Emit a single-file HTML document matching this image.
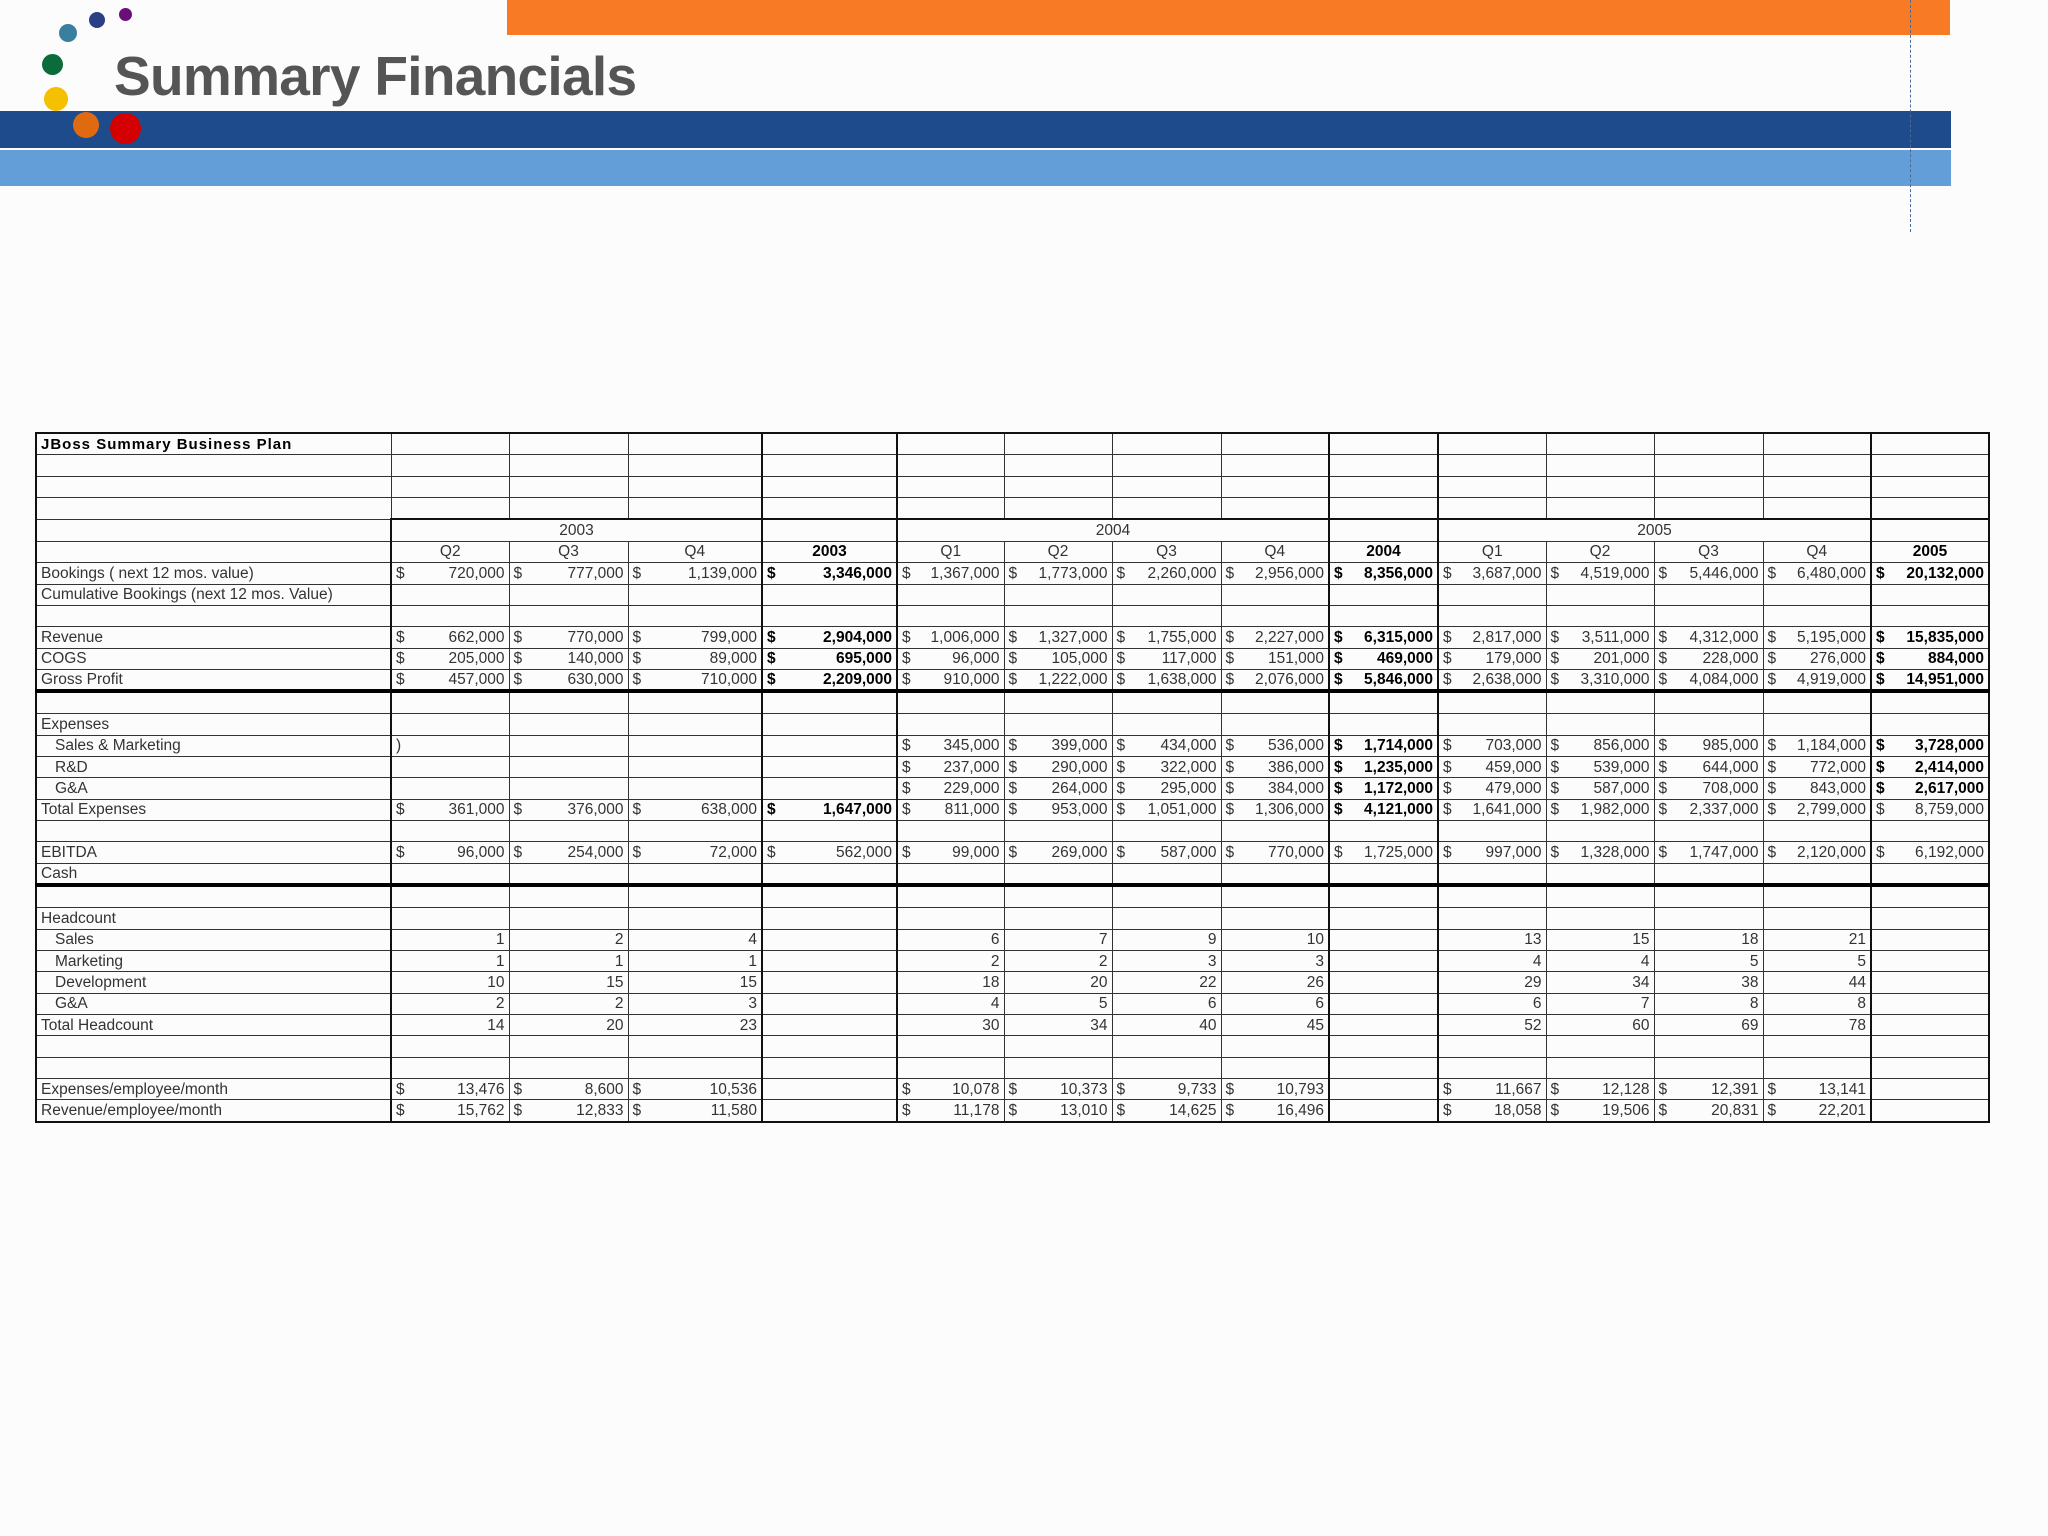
<!DOCTYPE html>
<html><head><meta charset="utf-8">
<style>
html,body{margin:0;padding:0;background:#fdfcfd;}
body{width:2048px;height:1536px;position:relative;overflow:hidden;font-family:"Liberation Sans Narrow","Liberation Sans",sans-serif;}
.abs{position:absolute;}
.dot{position:absolute;border-radius:50%;}
#tbl{position:absolute;left:35px;top:432px;width:1953px;border-collapse:collapse;table-layout:fixed;border:2px solid #111;}
#tbl td{height:20.36px;padding:0 4px;border:1px solid #333;font-size:15.5px;color:#333;white-space:nowrap;overflow:hidden;line-height:19px;}
#tbl tr.thick td{height:18.1px;border-bottom:4px solid #000;}
#tbl td.n{text-align:right;}
#tbl td.b{font-weight:bold;color:#000;font-family:"Liberation Sans",sans-serif;font-size:15.5px;}
#tbl td .d{float:left;}
#tbl td.tl{border-left:2px solid #111;}
#tbl td.c{text-align:center;}
</style></head>
<body>
<div class="abs" style="left:507px;top:0;width:1443px;height:35px;background:#f87a24;"></div>
<div class="abs" style="left:0;top:111px;width:1951px;height:37px;background:#1d4b8b;"></div>
<div class="abs" style="left:0;top:150px;width:1951px;height:36px;background:#649ed9;"></div>
<div class="abs" style="left:1910px;top:0;width:0;height:232px;border-left:1.5px dashed #4a6a9a;"></div>
<div class="abs" style="left:114px;top:44px;font-family:'Liberation Sans',sans-serif;font-weight:bold;font-size:55px;color:#555;letter-spacing:-0.7px;">Summary Financials</div>
<div class="dot" style="left:59px;top:24px;width:18px;height:18px;background:#3a7fa0;"></div>
<div class="dot" style="left:89px;top:12px;width:16px;height:16px;background:#2a3f84;"></div>
<div class="dot" style="left:119px;top:8px;width:13px;height:13px;background:#6a0f7a;"></div>
<div class="dot" style="left:42px;top:54px;width:21px;height:21px;background:#0b6b3a;"></div>
<div class="dot" style="left:44px;top:87px;width:24px;height:24px;background:#f5c000;"></div>
<div class="dot" style="left:73px;top:112px;width:26px;height:26px;background:#e06a10;"></div>
<div class="dot" style="left:110px;top:113px;width:31px;height:31px;background:#d40000;"></div>

<table id="tbl">
<colgroup>
<col style="width:355px"><col style="width:118px"><col style="width:119px"><col style="width:134px"><col style="width:135px">
<col style="width:107px"><col style="width:108px"><col style="width:109px"><col style="width:108px"><col style="width:109px">
<col style="width:108px"><col style="width:108px"><col style="width:109px"><col style="width:108px"><col style="width:118px">
</colgroup>
<tbody id="tb"></tbody>
</table>

<script>
const labels=["JBoss Summary Business Plan","","","","","","Bookings ( next 12 mos. value)","Cumulative Bookings (next 12 mos. Value)","","Revenue","COGS","Gross Profit","","Expenses","  Sales & Marketing","  R&D","  G&A","Total Expenses","","EBITDA","Cash","","Headcount","  Sales","  Marketing","  Development","  G&A","Total Headcount","","","Expenses/employee/month","Revenue/employee/month"];
const bookings=["$720,000","$777,000","$1,139,000","$3,346,000","$1,367,000","$1,773,000","$2,260,000","$2,956,000","$8,356,000","$3,687,000","$4,519,000","$5,446,000","$6,480,000","$20,132,000"];
const revenue=["$662,000","$770,000","$799,000","$2,904,000","$1,006,000","$1,327,000","$1,755,000","$2,227,000","$6,315,000","$2,817,000","$3,511,000","$4,312,000","$5,195,000","$15,835,000"];
const cogs=["$205,000","$140,000","$89,000","$695,000","$96,000","$105,000","$117,000","$151,000","$469,000","$179,000","$201,000","$228,000","$276,000","$884,000"];
const grossProfit=["$457,000","$630,000","$710,000","$2,209,000","$910,000","$1,222,000","$1,638,000","$2,076,000","$5,846,000","$2,638,000","$3,310,000","$4,084,000","$4,919,000","$14,951,000"];
const salesMkt=[")","","","","$345,000","$399,000","$434,000","$536,000","$1,714,000","$703,000","$856,000","$985,000","$1,184,000","$3,728,000"];
const rnd=["","","","","$237,000","$290,000","$322,000","$386,000","$1,235,000","$459,000","$539,000","$644,000","$772,000","$2,414,000"];
const gna=["","","","","$229,000","$264,000","$295,000","$384,000","$1,172,000","$479,000","$587,000","$708,000","$843,000","$2,617,000"];
const totalExp=["$361,000","$376,000","$638,000","$1,647,000","$811,000","$953,000","$1,051,000","$1,306,000","$4,121,000","$1,641,000","$1,982,000","$2,337,000","$2,799,000","$8,759,000"];
const ebitda=["$96,000","$254,000","$72,000","$562,000","$99,000","$269,000","$587,000","$770,000","$1,725,000","$997,000","$1,328,000","$1,747,000","$2,120,000","$6,192,000"];
const hcSales=["1","2","4","","6","7","9","10","","13","15","18","21",""];
const hcMkt=["1","1","1","","2","2","3","3","","4","4","5","5",""];
const hcDev=["10","15","15","","18","20","22","26","","29","34","38","44",""];
const hcGna=["2","2","3","","4","5","6","6","","6","7","8","8",""];
const hcTotal=["14","20","23","","30","34","40","45","","52","60","69","78",""];
const expPerEmp=["$13,476","$8,600","$10,536","","$10,078","$10,373","$9,733","$10,793","","$11,667","$12,128","$12,391","$13,141",""];
const revPerEmp=["$15,762","$12,833","$11,580","","$11,178","$13,010","$14,625","$16,496","","$18,058","$19,506","$20,831","$22,201",""];
const quarters=["Q2","Q3","Q4","2003","Q1","Q2","Q3","Q4","2004","Q1","Q2","Q3","Q4","2005"];
const rowData={6:bookings,9:revenue,10:cogs,11:grossProfit,14:salesMkt,15:rnd,16:gna,17:totalExp,19:ebitda,23:hcSales,24:hcMkt,25:hcDev,26:hcGna,27:hcTotal,30:expPerEmp,31:revPerEmp};
const boldRows={6:[3,8,13],9:[3,8,13],10:[3,8,13],11:[3,8,13],14:[8,13],15:[8,13],16:[8,13],17:[3,8]};
const thickLeft=[4,5,9,10,14];
const tb=document.getElementById('tb');
for(let r=0;r<labels.length;r++){
  const tr=document.createElement('tr');
  
  
  if(r===11||r===20) tr.className='thick';
  const lab=document.createElement('td');
  
  
  lab.textContent=labels[r];
  if(labels[r].startsWith('  ')){lab.style.paddingLeft='18px';lab.textContent=labels[r].trim();}
  if(r===0){lab.style.fontFamily='"Liberation Sans",sans-serif';lab.style.fontWeight='bold';lab.style.fontSize='15px';lab.style.letterSpacing='1px';lab.style.color='#000';}
  tr.appendChild(lab);
  if(r===4){
    const spans=[[3,'2003'],[1,''],[4,'2004'],[1,''],[4,'2005'],[1,'']];
    let ci=1;
    spans.forEach(s=>{const td=document.createElement('td');td.colSpan=s[0];td.className='c'+(thickLeft.includes(ci)?' tl':'');td.textContent=s[1];
      
      
      td.style.borderTop='2px solid #111';
      if(ci===1) td.style.borderLeft='2px solid #111';
      ci+=s[0];tr.appendChild(td);});
    tb.appendChild(tr);continue;
  }
  for(let c=1;c<=14;c++){
    const td=document.createElement('td');
    
    
    let cls=[];
    if(thickLeft.includes(c)) cls.push('tl');
    if(c===1 && r>=4) td.style.borderLeft='2px solid #111';
    if(r===5){
      td.textContent=quarters[c-1];cls.push('c');
      if([4,9,14].includes(c)) cls.push('b');
    } else if(rowData[r]){
      const v=rowData[r][c-1];
      if(boldRows[r]&&boldRows[r].includes(c-1)) cls.push('b');
      if(v.startsWith('$')){
        cls.push('n');
        const d=document.createElement('span');d.className='d';d.textContent='$';td.appendChild(d);
        td.appendChild(document.createTextNode(v.slice(1)));
      } else {
        if(v!==')') cls.push('n');
        td.textContent=v;
      }
    }
    td.className=cls.join(' ');
    tr.appendChild(td);
  }
  tb.appendChild(tr);
}
</script>
</body></html>
